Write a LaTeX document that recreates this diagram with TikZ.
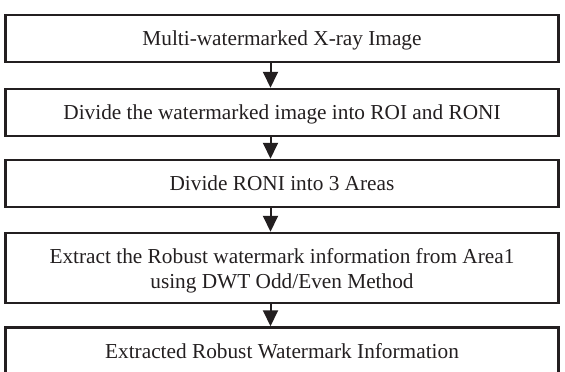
\documentclass[tikz,border=0pt]{standalone}
\usepackage{fontspec}
\setmainfont{Liberation Serif}
\usetikzlibrary{arrows.meta}
\definecolor{ink}{HTML}{231F20}
\begin{document}
\begin{tikzpicture}[x=1pt,y=-1pt,
  stepbox/.style={draw=ink, line width=2.5pt, minimum width=553pt, inner sep=0pt,
    align=center, text=ink, font=\fontsize{21.3}{25}\selectfont, text depth=0pt},
  flow/.style={draw=ink, line width=2pt, -{Triangle[width=15pt,length=16pt]}}]
\useasboundingbox (0,0) rectangle (565,372);
\node[stepbox, minimum height=47pt] (b1) at (282,38.5) {Multi-watermarked X-ray Image};
\node[stepbox, minimum height=47pt] (b2) at (282,112.5) {Divide the watermarked image into ROI and RONI};
\node[stepbox, minimum height=47pt] (b3) at (282,183.5) {Divide RONI into 3 Areas};
\node[stepbox, minimum height=70pt] (b4) at (282,268) {Extract the Robust watermark information from Area1\\using DWT Odd/Even Method};
\node[stepbox, minimum height=47pt] (b5) at (282,351) {Extracted Robust Watermark Information};
\coordinate (ax) at (270.5,0);
\draw[flow] (b1.south -| ax) -- (b2.north -| ax);
\draw[flow] (b2.south -| ax) -- (b3.north -| ax);
\draw[flow] (b3.south -| ax) -- (b4.north -| ax);
\draw[flow] (b4.south -| ax) -- (b5.north -| ax);
\end{tikzpicture}
\end{document}
